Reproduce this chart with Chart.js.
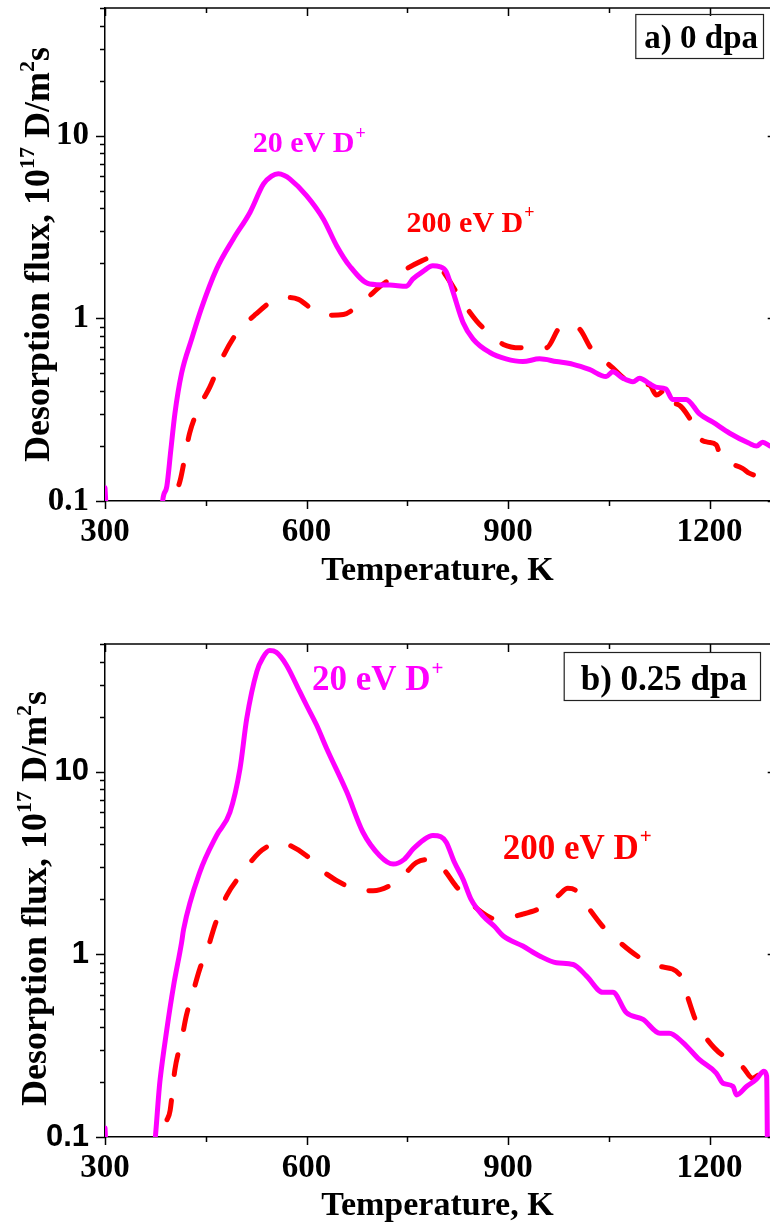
<!DOCTYPE html>
<html>
<head>
<meta charset="utf-8">
<title>Desorption flux vs temperature</title>
<script src="https://cdn.jsdelivr.net/npm/chart.js@4.4.0/dist/chart.umd.min.js"></script>
<style>
  html, body { margin: 0; padding: 0; background: #fff; overflow: hidden; }
  body { width: 770px; height: 1229px; position: relative; }
  .panel { position: absolute; left: 0; width: 770px; }
  #panelA { top: 0; height: 610px; }
  #panelB { top: 610px; height: 619px; }
</style>
</head>
<body>
<div class="panel" id="panelA"><canvas id="chartA"></canvas></div>
<div class="panel" id="panelB"><canvas id="chartB"></canvas></div>
<script>
// Axis ticks
const xLabelTicks = [300, 600, 900, 1200];
const xAllTicks = [300, 450, 600, 750, 900, 1050, 1200];
const yLabelTicks = [0.1, 1, 10];
const yMinorTicks = [0.2, 0.3, 0.4, 0.5, 0.6, 0.7, 0.8, 0.9, 2, 3, 4, 5, 6, 7, 8, 9, 20, 30, 40, 50];

// a) 0 dpa, 20 eV D+
const tempA20 = [300, 304, 383, 386, 392, 398, 404, 414, 429, 443, 466, 491, 516, 536, 548, 558, 567, 575, 600, 625, 645, 664, 694, 724, 749, 758, 773, 788, 798, 808, 818, 833, 848, 873, 897, 922, 947, 972, 997, 1021, 1046, 1056, 1071, 1086, 1096, 1110, 1120, 1135, 1145, 1165, 1185, 1205, 1230, 1259, 1270, 1279, 1290];
const fluxA20 = [0.118, 0.07, 0.07, 0.101, 0.12, 0.19, 0.30, 0.50, 0.77, 1.12, 1.86, 2.72, 3.81, 5.44, 6.0, 6.18, 6.05, 5.8, 4.7, 3.5, 2.49, 1.94, 1.54, 1.52, 1.50, 1.64, 1.80, 1.94, 1.92, 1.80, 1.40, 0.95, 0.77, 0.65, 0.60, 0.58, 0.60, 0.58, 0.56, 0.525, 0.48, 0.51, 0.47, 0.45, 0.47, 0.44, 0.42, 0.41, 0.36, 0.36, 0.30, 0.27, 0.235, 0.207, 0.20, 0.21, 0.20];

// a) 0 dpa, 200 eV D+
const tempA200 = [395, 402, 412, 426, 441, 456, 474, 491, 507, 524, 550, 570, 588, 615, 635, 655, 682, 714, 744, 770, 786, 806, 833, 853, 873, 893, 918, 940, 957, 977, 995, 1007, 1024, 1040, 1056, 1076, 1095, 1111, 1121, 1132, 1140, 1150, 1170, 1183, 1197, 1210, 1217, 1232, 1249, 1259, 1275, 1287, 1290];
const fluxA200 = [0.07, 0.1, 0.13, 0.235, 0.33, 0.42, 0.60, 0.78, 0.92, 1.05, 1.25, 1.30, 1.27, 1.08, 1.04, 1.05, 1.22, 1.54, 1.82, 2.05, 2.15, 1.75, 1.22, 0.97, 0.82, 0.72, 0.69, 0.70, 0.69, 0.89, 0.92, 0.87, 0.68, 0.60, 0.535, 0.46, 0.44, 0.43, 0.38, 0.40, 0.33, 0.34, 0.285, 0.225, 0.21, 0.203, 0.172, 0.16, 0.151, 0.142, 0.135, 0.128, 0.125];

// b) 0.25 dpa, 20 eV D+
const tempB20 = [300, 303, 371, 382, 392, 402, 414, 417, 441, 466, 486, 501, 511, 526, 535, 545, 555, 570, 590, 600, 615, 630, 660, 684, 709, 729, 745, 759, 775, 788, 800, 808, 820, 833, 845, 863, 880, 893, 922, 947, 972, 997, 1017, 1041, 1056, 1076, 1101, 1126, 1140, 1160, 1185, 1210, 1220, 1235, 1240, 1255, 1269, 1281, 1285, 1287, 1290];
const fluxB20 = [0.112, 0.07, 0.08, 0.206, 0.387, 0.67, 1.16, 1.37, 2.81, 4.47, 6.0, 10.4, 19.5, 35.3, 42, 46, 45, 38.4, 27.4, 23.1, 18, 13.4, 7.73, 4.66, 3.47, 3.12, 3.3, 3.78, 4.25, 4.47, 4.4, 4.11, 3.2, 2.58, 2.0, 1.62, 1.42, 1.26, 1.11, 0.98, 0.90, 0.88, 0.76, 0.62, 0.62, 0.48, 0.44, 0.37, 0.37, 0.33, 0.265, 0.224, 0.197, 0.189, 0.17, 0.189, 0.206, 0.229, 0.215, 0.05, 0.05];

// b) 0.25 dpa, 200 eV D+
const tempB200 = [385, 389, 397, 404, 414, 421, 431, 441, 454, 464, 481, 501, 530, 545, 560, 575, 600, 630, 669, 699, 739, 764, 785, 803, 823, 840, 858, 882, 922, 952, 975, 989, 1000, 1014, 1041, 1061, 1096, 1126, 1155, 1165, 1180, 1197, 1222, 1237, 1250, 1264, 1277, 1290];
const fluxB200 = [0.07, 0.109, 0.14, 0.233, 0.34, 0.46, 0.62, 0.83, 1.11, 1.46, 2.09, 2.69, 3.62, 3.95, 4.11, 3.95, 3.47, 2.75, 2.30, 2.23, 2.58, 3.19, 3.3, 2.95, 2.35, 2.0, 1.73, 1.56, 1.66, 1.82, 2.1, 2.30, 2.25, 1.92, 1.42, 1.21, 0.96, 0.86, 0.78, 0.62, 0.43, 0.34, 0.276, 0.265, 0.24, 0.21, 0.224, 0.23];

const MAGENTA = '#ff00ff';
const RED = '#ff0000';
const SERIF = '"Liberation Serif", "Times New Roman", serif';
const SANS = '"Liberation Sans", Arial, sans-serif';

function toPoints(xs, ys) {
    return xs.map((x, i) => ({ x: x, y: ys[i] }));
}

// Draws the frame ticks, the rotated y title and the in-plot labels
function makeFramePlugin(cfg) {
    return {
        id: 'frame',
        afterDraw(chart) {
            const ctx = chart.ctx;
            const area = chart.chartArea;
            const xs = chart.scales.x;
            const ys = chart.scales.y;
            ctx.save();
            ctx.strokeStyle = '#000';
            ctx.lineWidth = 1.5;

            // top frame line
            ctx.beginPath();
            ctx.moveTo(area.left, area.top);
            ctx.lineTo(area.right, area.top);
            ctx.stroke();

            // x ticks: out at bottom, in at top
            xAllTicks.forEach(t => {
                const px = Math.round(xs.getPixelForValue(t)) + 0.5;
                const len = t % 300 === 0 ? 8 : 5;
                ctx.beginPath();
                ctx.moveTo(px, area.bottom);
                ctx.lineTo(px, area.bottom + len);
                ctx.moveTo(px, area.top);
                ctx.lineTo(px, area.top + len);
                ctx.stroke();
            });

            // y ticks: out on left, in on the (cropped) right axis at 1300 K
            const rightX = xs.getPixelForValue(1300);
            const drawY = (v, len) => {
                const py = Math.round(ys.getPixelForValue(v)) + 0.5;
                ctx.beginPath();
                ctx.moveTo(area.left - len, py);
                ctx.lineTo(area.left, py);
                ctx.moveTo(rightX - len, py);
                ctx.lineTo(rightX, py);
                ctx.stroke();
            };
            yLabelTicks.forEach(v => drawY(v, 9));
            yMinorTicks.forEach(v => drawY(v, 5));

            // y title with superscripts
            const size = cfg.yTitleSize;
            const parts = [
                { t: 'Desorption flux, 10', sup: false },
                { t: '17', sup: true },
                { t: ' D/m', sup: false },
                { t: '2', sup: true },
                { t: 's', sup: false }
            ];
            const fontMain = 'bold ' + size + 'px ' + SERIF;
            const fontSup = 'bold ' + Math.round(size * 0.62) + 'px ' + SERIF;
            let total = 0;
            parts.forEach(p => {
                ctx.font = p.sup ? fontSup : fontMain;
                p.w = ctx.measureText(p.t).width;
                total += p.w;
            });
            ctx.save();
            ctx.translate(cfg.yTitleX, (area.top + area.bottom) / 2 + cfg.yTitleShift);
            ctx.rotate(-Math.PI / 2);
            ctx.fillStyle = '#000';
            ctx.textBaseline = 'alphabetic';
            ctx.textAlign = 'left';
            let cx = -total / 2;
            parts.forEach(p => {
                ctx.font = p.sup ? fontSup : fontMain;
                ctx.fillText(p.t, cx, p.sup ? -size * 0.42 : 0);
                cx += p.w;
            });
            ctx.restore();

            // series labels
            cfg.labels.forEach(lb => {
                const px = xs.getPixelForValue(lb.x);
                const py = ys.getPixelForValue(lb.y);
                ctx.fillStyle = lb.color;
                ctx.textAlign = 'left';
                ctx.textBaseline = 'alphabetic';
                ctx.font = 'bold ' + lb.size + 'px ' + SERIF;
                ctx.fillText(lb.text, px, py);
                const w = ctx.measureText(lb.text).width;
                ctx.font = 'bold ' + Math.round(lb.size * 0.6) + 'px ' + SERIF;
                ctx.fillText('+', px + w + 1, py - lb.size * 0.45);
            });

            // panel tag box
            const box = cfg.box;
            ctx.font = 'bold ' + box.size + 'px ' + SERIF;
            const tw = ctx.measureText(box.text).width;
            const bx1 = area.right - box.right;
            const bx0 = bx1 - tw - box.padL - box.padR;
            const by0 = area.top + box.top;
            ctx.lineWidth = 1.2;
            ctx.strokeStyle = '#222';
            ctx.strokeRect(bx0 + 0.5, by0 + 0.5, bx1 - bx0, box.h);
            ctx.fillStyle = '#000';
            ctx.textBaseline = 'alphabetic';
            ctx.fillText(box.text, bx0 + box.padL, by0 + box.baseline);
            ctx.restore();
        }
    };
}

function createPanel(canvasId, cfg) {
    const canvas = document.getElementById(canvasId);
    return new Chart(canvas, {
        type: 'line',
        data: {
            datasets: [
                {
                    label: '20 eV D+',
                    data: toPoints(cfg.t20, cfg.f20),
                    borderColor: MAGENTA,
                    borderWidth: 5,
                    borderCapStyle: 'round',
                    borderJoinStyle: 'round',
                    pointRadius: 0,
                    cubicInterpolationMode: 'monotone',
                    fill: false,
                    clip: 0
                },
                {
                    label: '200 eV D+',
                    data: toPoints(cfg.t200, cfg.f200),
                    borderColor: RED,
                    borderWidth: 5,
                    borderDash: [20, 26],
                    borderCapStyle: 'round',
                    borderJoinStyle: 'round',
                    pointRadius: 0,
                    cubicInterpolationMode: 'monotone',
                    fill: false,
                    clip: 0
                }
            ]
        },
        options: {
            responsive: true,
            maintainAspectRatio: false,
            animation: false,
            devicePixelRatio: 1,
            layout: { padding: { top: cfg.top, left: 0, right: 0, bottom: 0 } },
            plugins: {
                legend: { display: false },
                tooltip: { enabled: false }
            },
            scales: {
                x: {
                    type: 'linear',
                    min: 300,
                    max: 1290,
                    afterBuildTicks: s => { s.ticks = xLabelTicks.map(v => ({ value: v })); },
                    afterFit: s => {
                        s.height = cfg.xAxisHeight;
                        s.paddingLeft = 0;
                        s.paddingRight = 0;
                    },
                    grid: { display: false, drawTicks: false },
                    border: { display: true, color: '#000', width: 1.5 },
                    ticks: {
                        color: '#000',
                        padding: 12,
                        maxRotation: 0,
                        font: { family: SERIF, weight: 'bold', size: 33 },
                        callback: v => String(v)
                    },
                    title: {
                        display: true,
                        text: 'Temperature, K',
                        color: '#000',
                        font: { family: SERIF, weight: 'bold', size: 34 },
                        padding: { top: 0, bottom: cfg.xTitlePad }
                    }
                },
                y: {
                    type: 'logarithmic',
                    min: 0.1,
                    max: 50,
                    afterBuildTicks: s => { s.ticks = yLabelTicks.map(v => ({ value: v })); },
                    afterFit: s => {
                        s.width = 105;
                        s.paddingTop = 0;
                        s.paddingBottom = 0;
                    },
                    grid: { display: false, drawTicks: false },
                    border: { display: true, color: '#000', width: 1.5 },
                    ticks: {
                        color: '#000',
                        padding: 16,
                        font: { family: cfg.yTickFamily, weight: 'bold', size: cfg.yTickSize },
                        callback: v => String(v)
                    }
                }
            }
        },
        plugins: [makeFramePlugin(cfg)]
    });
}

createPanel('chartA', {
    top: 8, xAxisHeight: 109, xTitlePad: 18,
    t20: tempA20, f20: fluxA20, t200: tempA200, f200: fluxA200,
    yTickFamily: SERIF, yTickSize: 33,
    yTitleSize: 36, yTitleX: 49, yTitleShift: 0,
    labels: [
        { text: '20 eV D', x: 520, y: 8.1, size: 30, color: MAGENTA },
        { text: '200 eV D', x: 749, y: 2.97, size: 30, color: RED }
    ],
    box: { text: 'a) 0 dpa', size: 33, right: 7, top: 6, h: 44, padL: 9, padR: 5, baseline: 34 }
});

createPanel('chartB', {
    top: 34, xAxisHeight: 92, xTitlePad: 2,
    t20: tempB20, f20: fluxB20, t200: tempB200, f200: fluxB200,
    yTickFamily: SANS, yTickSize: 31,
    yTitleSize: 36, yTitleX: 46, yTitleShift: 8,
    labels: [
        { text: '20 eV D', x: 608, y: 27.9, size: 35, color: MAGENTA },
        { text: '200 eV D', x: 892, y: 3.33, size: 35, color: RED }
    ],
    box: { text: 'b) 0.25 dpa', size: 35, right: 10, top: 8, h: 48, padL: 17, padR: 13, baseline: 38 }
});
</script>
</body>
</html>
